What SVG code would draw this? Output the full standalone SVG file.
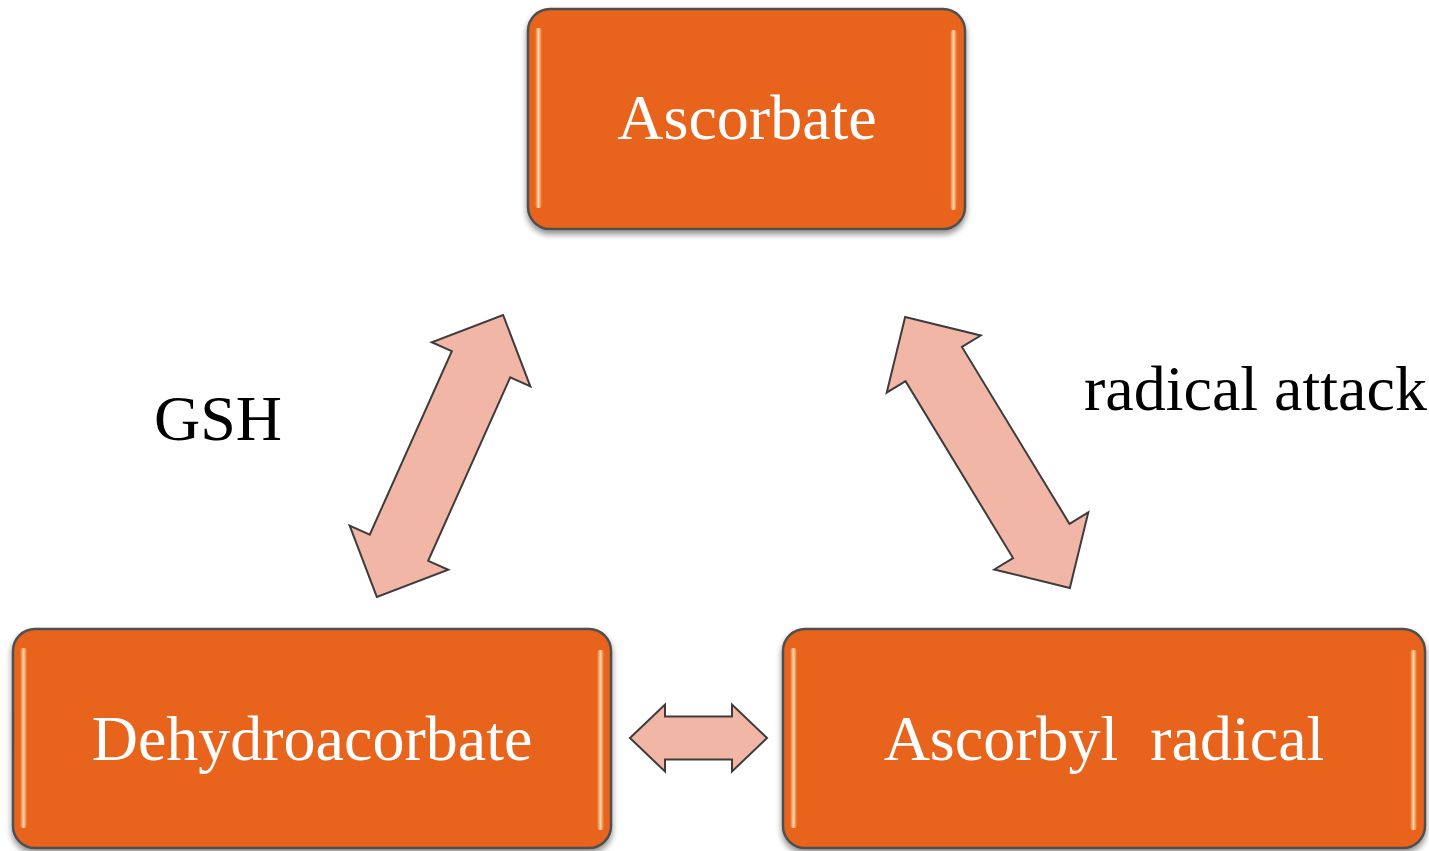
<svg xmlns="http://www.w3.org/2000/svg" width="1429" height="851" viewBox="0 0 1429 851">
  <defs>
    <filter id="sh" x="-10%" y="-10%" width="120%" height="130%">
      <feGaussianBlur in="SourceAlpha" stdDeviation="3"/>
      <feOffset dx="0" dy="4" result="b"/>
      <feComponentTransfer><feFuncA type="linear" slope="0.45"/></feComponentTransfer>
      <feMerge><feMergeNode/><feMergeNode in="SourceGraphic"/></feMerge>
    </filter>
    <linearGradient id="edge" x1="0" y1="0" x2="1" y2="0">
      <stop offset="0" stop-color="#E8641C"/>
      <stop offset="0.5" stop-color="#FFD8A8"/>
      <stop offset="1" stop-color="#E8641C"/>
    </linearGradient>
  </defs>
  <style>
    .box { fill: #E8641C; stroke: #505050; stroke-width: 2.5; }
    .hl { fill: url(#edge); }
    .lbl { font-family: "Liberation Serif", "Times New Roman", serif; font-size: 64px; fill: #FFFFFF; text-anchor: middle; }
    .ext { font-family: "Liberation Serif", "Times New Roman", serif; font-size: 64px; fill: #000000; }
    .arr { fill: #F2B6A6; stroke: #3C3C3C; stroke-width: 2; stroke-linejoin: miter; }
  </style>
  <rect width="1429" height="851" fill="#FFFFFF"/>

  <g id="ascorbate" filter="url(#sh)">
    <rect class="box" x="528" y="9" width="437" height="220" rx="22"/>
    <rect class="hl" x="535" y="28" width="7" height="180" rx="3"/>
    <rect class="hl" x="950" y="30" width="7" height="180" rx="3"/>
    <text class="lbl" x="747" y="139">Ascorbate</text>
  </g>

  <g id="dehydroascorbate" filter="url(#sh)">
    <rect class="box" x="13" y="629" width="598" height="219" rx="22"/>
    <rect class="hl" x="20" y="648" width="7" height="180" rx="3"/>
    <rect class="hl" x="597" y="650" width="7" height="180" rx="3"/>
    <text class="lbl" x="312" y="760">Dehydroacorbate</text>
  </g>

  <g id="ascorbyl-radical" filter="url(#sh)">
    <rect class="box" x="783" y="629" width="642" height="219" rx="22"/>
    <rect class="hl" x="790" y="648" width="7" height="180" rx="3"/>
    <rect class="hl" x="1410" y="650" width="7" height="180" rx="3"/>
    <text class="lbl" x="1104" y="760" xml:space="preserve">Ascorbyl  radical</text>
  </g>

  <g id="connectors">
    <polygon class="arr" transform="translate(440,456) rotate(-65.9)" points="-154.5,0 -100.5,-54 -100.5,-32 100.5,-32 100.5,-54 154.5,0 100.5,54 100.5,32 -100.5,32 -100.5,54"/>
    <polygon class="arr" transform="translate(987.5,452.5) rotate(58.7)" points="-158.5,0 -103.5,-55 -103.5,-33 103.5,-33 103.5,-55 158.5,0 103.5,55 103.5,33 -103.5,33 -103.5,55"/>
    <polygon class="arr" transform="translate(698.5,738)" points="-68.5,0 -33.5,-33.5 -33.5,-21.5 33.5,-21.5 33.5,-33.5 68.5,0 33.5,33.5 33.5,21.5 -33.5,21.5 -33.5,33.5"/>
  </g>

  <g id="labels">
    <text class="ext" x="154" y="440">GSH</text>
    <text class="ext" x="1084" y="410">radical attack</text>
  </g>
</svg>
